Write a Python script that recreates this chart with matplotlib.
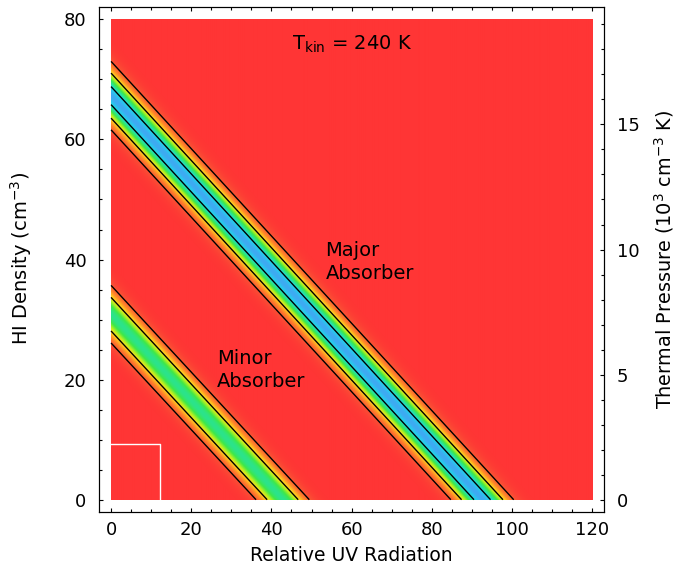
import numpy as np
import matplotlib
matplotlib.use("Agg")
import matplotlib.pyplot as plt
from matplotlib.colors import LinearSegmentedColormap
from matplotlib.ticker import MultipleLocator

plt.rcParams['font.family'] = ['DejaVu Sans']
plt.rcParams['mathtext.fontset'] = 'dejavusans'
plt.rcParams['font.size'] = 13

# absorber bands: centre line n_HI = intercept - slope * UV
band_names = ["Major", "Minor"]
band_intercept = [67.3, 30.9]
band_slope = [0.727, 0.722]
band_amp = [1.0, 0.748]
band_width = [2.8, 2.54]
contour_levels = [0.126, 0.408, 0.866]

t_kin = 240.0
uv_range = [0, 120]
n_range = [0, 80]
box_uv, box_n = 12.2, 9.2

cmap = LinearSegmentedColormap.from_list("abs", [
    (0.0, "#ff3535"), (0.1, "#fa5034"), (0.25, "#ff9028"),
    (0.4, "#ffe01e"), (0.52, "#b4f022"), (0.65, "#3ee848"),
    (0.78, "#26e2a0"), (0.88, "#22d8e2"), (0.95, "#2cc4ee"),
    (1.0, "#3eaaf2")])

uv = np.linspace(uv_range[0], uv_range[1], 721)
n = np.linspace(n_range[0], n_range[1], 481)
U, N = np.meshgrid(uv, n)
Z = np.zeros_like(U)
for c, s, a, w in zip(band_intercept, band_slope, band_amp, band_width):
    d = N - (c - s * U)
    Z = np.maximum(Z, a * np.exp(-d**2 / (2 * w**2)))

fig = plt.figure(figsize=(6.91, 5.65), dpi=100)
ax = fig.add_axes([0.1433, 0.0943, 0.7312, 0.8927])
ax.imshow(Z, origin="lower", extent=uv_range + n_range, cmap=cmap,
          vmin=0, vmax=1, aspect="auto", interpolation="bilinear")
ax.contour(U, N, Z, levels=contour_levels, colors="black", linewidths=1.0)
ax.plot([0, box_uv, box_uv], [box_n, box_n, 0], color="white", lw=1.0)

ax.set_xlim(-3, 123)
ax.set_ylim(-2, 82)
ax.xaxis.set_major_locator(MultipleLocator(20))
ax.xaxis.set_minor_locator(MultipleLocator(5))
ax.yaxis.set_major_locator(MultipleLocator(20))
ax.yaxis.set_minor_locator(MultipleLocator(5))
ax.tick_params(which="both", direction="in", top=True, right=False)
ax.tick_params(which="major", length=3.2, width=0.8)
ax.tick_params(which="minor", length=2.4, width=0.8)
ax.tick_params(axis="x", which="major", pad=7)
ax.tick_params(axis="y", which="major", pad=9)
ax.set_xlabel("Relative UV Radiation", fontsize=13.5)
ax.set_ylabel(r"HI Density (cm$^{-3}$)", fontsize=14)
ax.xaxis.set_label_coords(0.499, -0.068)
ax.yaxis.set_label_coords(-0.129, 0.502)

ax2 = ax.twinx()
ax2.set_ylim(-2 * t_kin / 1000, 82 * t_kin / 1000)
ax2.yaxis.set_major_locator(MultipleLocator(5))
ax2.yaxis.set_minor_locator(MultipleLocator(1))
ax2.tick_params(which="both", direction="in")
ax2.tick_params(which="major", length=3.2, width=0.8, pad=9)
ax2.tick_params(which="minor", length=2.4, width=0.8)
ax2.set_ylabel(r"Thermal Pressure (10$^3$ cm$^{-3}$ K)", fontsize=13.9)
ax2.yaxis.set_label_coords(1.094, 0.501)

ax.text(60, 75.0, r"T$_{\mathrm{kin}}$ = 240 K", ha="center", va="baseline", fontsize=14)
ax.text(53.5, 40.65, "Major", ha="left", va="baseline", fontsize=14)
ax.text(53.5, 36.75, "Absorber", ha="left", va="baseline", fontsize=14)
ax.text(26.5, 22.6, "Minor", ha="left", va="baseline", fontsize=14)
ax.text(26.5, 18.7, "Absorber", ha="left", va="baseline", fontsize=14)

fig.savefig("out.png", dpi=100)
